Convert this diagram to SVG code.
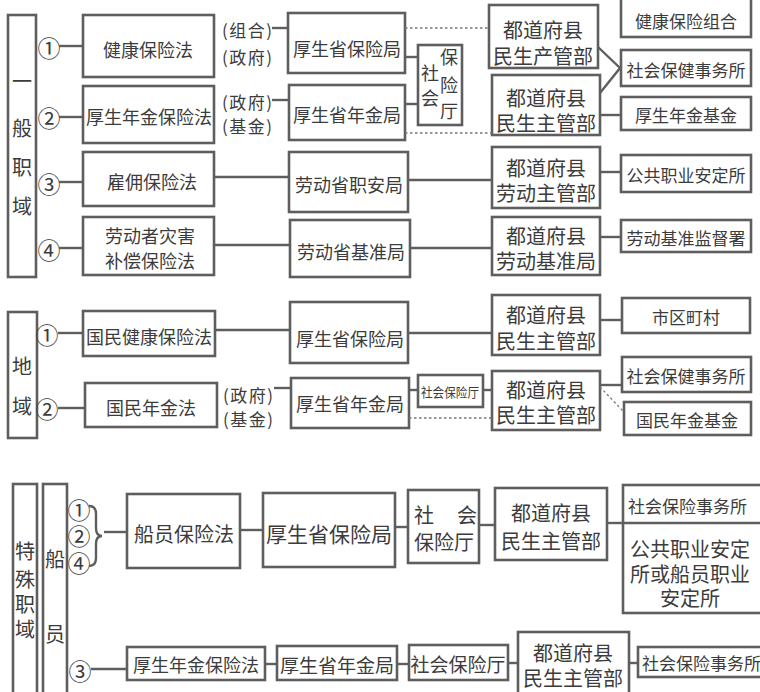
<svg xmlns="http://www.w3.org/2000/svg" width="760" height="692" viewBox="0 0 760 692">
<style>
.b{fill:none;stroke:#5e5e5e;stroke-width:2.6}
.c{fill:none;stroke:#5e5e5e;stroke-width:2.4}
.d{fill:none;stroke:#777;stroke-width:1.3;stroke-dasharray:2.5 2.5}
text{font-family:"Noto Sans CJK SC","Noto Sans CJK JP",sans-serif;fill:#3c3c3c;text-anchor:middle;dominant-baseline:central}
.f17{font-size:17px}.f18{font-size:18px}.f19{font-size:19px}.f20{font-size:20px}.f21{font-size:21px}
.n{font-size:23px}
.s{text-anchor:start}
</style>
<rect width="760" height="692" fill="#fff"/>

<!-- Section 1: 一般职域 -->
<g id="sec1">
<rect class="b" x="8" y="15" width="28" height="262"/>
<text class="f20" x="22" y="80">一</text><text class="f20" x="22" y="127">般</text><text class="f20" x="22" y="166">职</text><text class="f20" x="22" y="205">域</text>
</g>
<g id="n1-1"><text class="n" x="49" y="47">①</text></g>
<g id="n1-2"><text class="n" x="49" y="117">②</text></g>
<g id="n1-3"><text class="n" x="49" y="183">③</text></g>
<g id="n1-4"><text class="n" x="49" y="249">④</text></g>
<g id="law1"><rect class="b" x="83" y="15" width="131" height="62"/><text class="f18" x="148" y="49">健康保险法</text></g>
<g id="law2"><rect class="b" x="83" y="86" width="131" height="57"/><text class="f18" x="149" y="116">厚生年金保险法</text></g>
<g id="law3"><rect class="b" x="83" y="152" width="131" height="54"/><text class="f18" x="152" y="181">雇佣保险法</text></g>
<g id="law4"><rect class="b" x="83" y="217" width="131" height="58"/><text class="f18" x="150" y="235">劳动者灾害</text><text class="f18" x="150" y="260">补偿保险法</text></g>
<g id="lab1"><text class="f17" x="247" y="29" textLength="50">(组合)</text><text class="f17" x="247" y="56" textLength="50">(政府)</text></g>
<g id="lab2"><text class="f17" x="247" y="101" textLength="50">(政府)</text><text class="f17" x="247" y="125" textLength="50">(基金)</text></g>
<g id="min1"><rect class="b" x="288" y="13" width="117" height="60"/><text class="f18" x="347" y="48">厚生省保险局</text></g>
<g id="min2"><rect class="b" x="289" y="85" width="116" height="55"/><text class="f18" x="347" y="114">厚生省年金局</text></g>
<g id="min3"><rect class="b" x="289" y="152" width="119" height="60"/><text class="f18" x="349" y="184">劳动省职安局</text></g>
<g id="min4"><rect class="b" x="290" y="220" width="120" height="57"/><text class="f18" x="351" y="251">劳动省基准局</text></g>
<g id="sha1"><rect class="b" x="418" y="45" width="44" height="80"/>
<text class="f18" x="449" y="56">保</text><text class="f18" x="430" y="72">社</text><text class="f18" x="449" y="84">险</text><text class="f18" x="430" y="97">会</text><text class="f18" x="449" y="110">厅</text></g>
<g id="pref1"><rect class="b" x="489" y="5" width="109" height="63"/><text class="f20" x="543" y="29">都道府县</text><text class="f20" x="543" y="55">民生产管部</text></g>
<g id="pref2"><rect class="b" x="492" y="75" width="108" height="60"/><text class="f20" x="546" y="97">都道府县</text><text class="f20" x="546" y="122">民生主管部</text></g>
<g id="pref3"><rect class="b" x="492" y="147" width="108" height="61"/><text class="f20" x="546" y="167">都道府县</text><text class="f20" x="546" y="192">劳动主管部</text></g>
<g id="pref4"><rect class="b" x="492" y="217" width="108" height="58"/><text class="f20" x="546" y="235">都道府县</text><text class="f20" x="546" y="260">劳动基准局</text></g>
<g id="r1"><rect class="b" x="621" y="-5" width="130" height="42"/><text class="f17" x="686" y="20">健康保险组合</text></g>
<g id="r2"><rect class="b" x="621" y="50" width="130" height="36"/><text class="f17" x="686" y="69">社会保健事务所</text></g>
<g id="r3"><rect class="b" x="621" y="97" width="130" height="33"/><text class="f17" x="686" y="114">厚生年金基金</text></g>
<g id="r4"><rect class="b" x="621" y="155" width="130" height="37"/><text class="f17" x="686" y="174">公共职业安定所</text></g>
<g id="r5"><rect class="b" x="621" y="220" width="130" height="32"/><text class="f17" x="686" y="237">劳动基准监督署</text></g>

<!-- Section 2: 地域 -->
<g id="sec2"><rect class="b" x="8" y="312" width="29" height="126"/><text class="f20" x="22" y="365">地</text><text class="f20" x="22" y="405">域</text></g>
<g id="n2-1"><text class="n" x="47" y="334">①</text></g>
<g id="n2-2"><text class="n" x="47" y="408">②</text></g>
<g id="law5"><rect class="b" x="83" y="311" width="132" height="45"/><text class="f18" x="149" y="336">国民健康保险法</text></g>
<g id="law6"><rect class="b" x="85" y="383" width="132" height="44"/><text class="f18" x="151" y="407">国民年金法</text></g>
<g id="lab3"><text class="f17" x="248" y="394" textLength="50">(政府)</text><text class="f17" x="248" y="418" textLength="50">(基金)</text></g>
<g id="min5"><rect class="b" x="290" y="302" width="118" height="61"/><text class="f18" x="350" y="338">厚生省保险局</text></g>
<g id="min6"><rect class="b" x="291" y="378" width="118" height="50"/><text class="f18" x="350" y="403">厚生省年金局</text></g>
<g id="sha2"><rect class="b" x="418" y="375" width="65" height="32"/><text x="450" y="391" font-size="13" textLength="58" lengthAdjust="spacingAndGlyphs">社会保险厅</text></g>
<g id="pref5"><rect class="b" x="492" y="295" width="108" height="60"/><text class="f20" x="546" y="314">都道府县</text><text class="f20" x="546" y="340">民生主管部</text></g>
<g id="pref6"><rect class="b" x="492" y="371" width="108" height="59"/><text class="f20" x="546" y="389">都道府县</text><text class="f20" x="546" y="414">民生主管部</text></g>
<g id="r6"><rect class="b" x="622" y="298" width="128" height="35"/><text class="f17" x="686" y="316">市区町村</text></g>
<g id="r7"><rect class="b" x="622" y="357" width="129" height="35"/><text class="f17" x="686" y="375">社会保健事务所</text></g>
<g id="r8"><rect class="b" x="624" y="402" width="127" height="33"/><text class="f17" x="687" y="419">国民年金基金</text></g>

<!-- Section 3: 特殊职域 -->
<g id="sec3"><rect class="b" x="13" y="484" width="24" height="215"/>
<text class="f20" x="25" y="550">特</text><text class="f20" x="25" y="578">殊</text><text class="f20" x="25" y="603">职</text><text class="f20" x="25" y="628">域</text></g>
<g id="sec3b"><rect class="b" x="43" y="484" width="24" height="215"/><text class="f20" x="55" y="558">船</text><text class="f20" x="55" y="633">员</text></g>
<g id="n3-a"><text class="n" x="79" y="509">①</text><text class="n" x="79" y="535">②</text><text class="n" x="79" y="562">④</text>
<path class="c" stroke-width="2" d="M89,506 Q96,506 96,514 L96,528 Q96,536 102,536 Q96,536 96,544 L96,558 Q96,566 89,566"/></g>
<g id="n3-3"><text class="n" x="80" y="670">③</text></g>
<g id="law7"><rect class="b" x="127" y="494" width="113" height="74"/><text class="f20" x="184" y="533">船员保险法</text></g>
<g id="min7"><rect class="b" x="263" y="493" width="132" height="74"/><text class="f21" x="329" y="533">厚生省保险局</text></g>
<g id="sha3"><rect class="b" x="408" y="490" width="71" height="73"/><text class="f20" x="424" y="514">社</text><text class="f20" x="467" y="514">会</text><text class="f20" x="444" y="541">保险厅</text></g>
<g id="pref7"><rect class="b" x="495" y="488" width="112" height="72"/><text class="f20" x="551" y="512">都道府县</text><text class="f20" x="551" y="540">民生主管部</text></g>
<g id="r9"><rect class="b" x="623" y="485" width="145" height="128"/><line class="b" x1="623" y1="523" x2="768" y2="523"/>
<text class="f17 s" x="628" y="505">社会保险事务所</text>
<text class="f20" x="690" y="548">公共职业安定</text><text class="f20" x="690" y="573">所或船员职业</text><text class="f20" x="690" y="597">安定所</text></g>
<g id="law8"><rect class="b" x="127" y="647" width="138" height="33"/><text class="f18" x="196" y="664">厚生年金保险法</text></g>
<g id="min8"><rect class="b" x="277" y="646" width="120" height="34"/><text class="f19" x="337" y="664">厚生省年金局</text></g>
<g id="sha4"><rect class="b" x="409" y="645" width="99" height="35"/><text class="f19" x="458" y="663">社会保险厅</text></g>
<g id="pref8"><rect class="b" x="518" y="632" width="111" height="70"/><text class="f20" x="573" y="652">都道府县</text><text class="f20" x="573" y="677">民生主管部</text></g>
<g id="r10"><rect class="b" x="638" y="647" width="130" height="30"/><text class="f17 s" x="642" y="662">社会保险事务所</text></g>

<!-- Connectors -->
<g id="connectors">
<line class="c" x1="59" y1="46" x2="83" y2="46"/>
<line class="c" x1="59" y1="117" x2="83" y2="117"/>
<line class="c" x1="59" y1="182" x2="83" y2="182"/>
<line class="c" x1="59" y1="248" x2="83" y2="248"/>
<line class="c" x1="272" y1="28" x2="288" y2="28"/>
<line class="c" x1="272" y1="100" x2="289" y2="100"/>
<line class="c" x1="214" y1="177" x2="289" y2="177"/>
<line class="c" x1="214" y1="245" x2="290" y2="245"/>
<line class="c" x1="405" y1="57" x2="418" y2="57"/>
<line class="c" x1="405" y1="104" x2="418" y2="104"/>
<line class="d" x1="405" y1="28" x2="489" y2="28"/>
<line class="d" x1="405" y1="133" x2="492" y2="133"/>
<line class="c" x1="408" y1="180" x2="492" y2="180"/>
<line class="c" x1="410" y1="248" x2="492" y2="248"/>
<polyline class="c" points="598,47 620,68 600,93"/>
<line class="c" x1="600" y1="115" x2="621" y2="115"/>
<line class="c" x1="600" y1="172" x2="621" y2="172"/>
<line class="c" x1="600" y1="237" x2="621" y2="237"/>

<line class="c" x1="58" y1="333" x2="83" y2="333"/>
<line class="c" x1="58" y1="408" x2="85" y2="408"/>
<line class="c" x1="215" y1="330" x2="290" y2="330"/>
<line class="c" x1="274" y1="388" x2="291" y2="388"/>
<line class="c" x1="408" y1="333" x2="492" y2="333"/>
<line class="c" x1="409" y1="390" x2="418" y2="390"/>
<line class="c" x1="483" y1="390" x2="492" y2="390"/>
<line class="d" x1="409" y1="418" x2="492" y2="418"/>
<line class="c" x1="600" y1="320" x2="622" y2="320"/>
<line class="c" x1="600" y1="385" x2="622" y2="385"/>
<line class="d" x1="600" y1="387" x2="624" y2="412"/>

<line class="c" x1="104" y1="532" x2="127" y2="532"/>
<line class="c" x1="240" y1="530" x2="263" y2="530"/>
<line class="c" x1="395" y1="527" x2="408" y2="527"/>
<line class="c" x1="479" y1="525" x2="495" y2="525"/>
<line class="c" x1="607" y1="523" x2="623" y2="523"/>
<line class="c" x1="91" y1="669" x2="127" y2="669"/>
<line class="c" x1="265" y1="664" x2="277" y2="664"/>
<line class="c" x1="397" y1="664" x2="409" y2="664"/>
<line class="c" x1="508" y1="663" x2="518" y2="663"/>
<line class="c" x1="629" y1="663" x2="638" y2="663"/>
</g>
</svg>
